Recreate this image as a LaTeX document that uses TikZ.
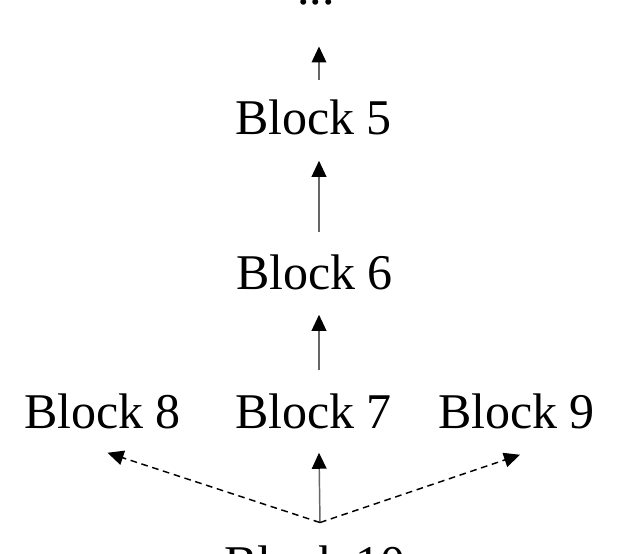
\documentclass[tikz,border=0pt]{standalone}
\usepackage{fontspec}
\setmainfont{Liberation Serif}
\usetikzlibrary{arrows.meta,calc}
\begin{document}
\begin{tikzpicture}[x=0.75pt,y=-0.75pt,
  lbl/.style={anchor=base,inner sep=0pt,font=\fontsize{37.5}{44}\selectfont},
  solidarrow/.style={draw=black!60,line width=1.1pt,-{Triangle[length=12pt,width=11pt,color=black]}},
  dasharrow/.style={draw=black,line width=1.1pt,dash pattern=on 5pt off 3.5pt,-{Triangle[length=12pt,width=11pt,color=black]}}]
\fill[white] (0,0) rectangle (640,554);
\useasboundingbox (0,0) rectangle (640,554);
\node[lbl] (dots) at (316,4.5) {...};
\node[lbl] (b5) at (313.5,134) {Block 5};
\node[lbl] (b6) at (314.5,289) {Block 6};
\node[lbl] (b7) at (313.5,428) {Block 7};
\node[lbl] (b8) at (102.5,428) {Block 8};
\node[lbl] (b9) at (516.5,428) {Block 9};
\node[lbl] (b10) at (315,580.5) {Block 10};
\coordinate (s) at ($(b10.north)+(5,-23)$);
\draw[solidarrow] ($(b5.north)+(5.5,-19)$) -- ($(dots.south)+(3,41)$);
\draw[solidarrow] ($(b6.north)+(4.5,-22)$) -- ($(b5.south)+(5.5,26)$);
\draw[solidarrow] ($(b7.north)+(5.5,-23)$) -- ($(b6.south)+(4.5,25)$);
\draw[solidarrow] (s) -- ($(b7.south)+(5.5,24)$);
\draw[dasharrow] (s) -- ($(b8.south)+(5,24)$);
\draw[dasharrow] (s) -- ($(b9.south)+(3.5,26)$);
\end{tikzpicture}
\end{document}
